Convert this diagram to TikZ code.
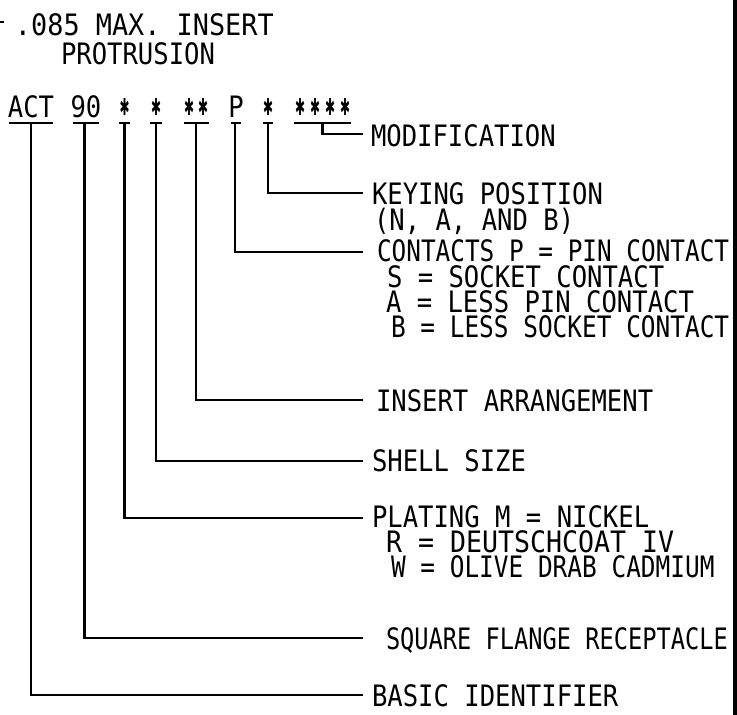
\documentclass[tikz,border=0pt]{standalone}
\usepackage{fontspec}
\newfontfamily\cad[FakeStretch=0.867]{DejaVu Sans Mono}
\newfontfamily\starfont{DejaVu Sans}
\newcommand\cadstar{\raisebox{2pt}{\resizebox*{10pt}{17pt}{\starfont\char"2731}}}
\newcommand\sx[2]{\scalebox{#1}[1]{#2}}
\begin{document}
\begin{tikzpicture}[x=1pt,y=-1pt,
  every node/.style={font=\cad\fontsize{29.5}{30}\selectfont, inner sep=0pt, outer sep=0pt},
  code/.style={anchor=base, text height=21.5pt, text depth=0pt, inner ysep=6pt, inner xsep=0pt},
  lbl/.style={anchor=base west},
  ln/.style={line width=2.8pt, line join=miter},
  ul/.style={line width=2.8pt},
]
\useasboundingbox (0,0) rectangle (737,715);
\fill[black] (733,0) rectangle (737,715);

% top note
\node[lbl] (note1) at (15,35) {\sx{1.05}{.085 MAX. INSERT}};
\node[lbl] (note2) at (61,64) {PROTRUSION};
\draw[line width=2pt] (0,22) -- (4,22);

% code row
\node[code] (act) at (31,117) {\makebox[44pt]{ACT}};
\node[code] (ninety) at (86,117) {\makebox[26pt]{90}};
\node[code] (s1) at (124.5,117) {\makebox[11pt]{\cadstar}};
\node[code] (s2) at (156,117) {\makebox[12pt]{\cadstar}};
\node[code] (s3) at (196,117) {\makebox[25pt]{\cadstar\hspace{4pt}\cadstar}};
\node[code] (pp) at (236,117) {\makebox[10pt]{P}};
\node[code] (s4) at (268,117) {\makebox[10pt]{\cadstar}};
\node[code] (s5) at (322.5,117) {\makebox[57pt]{\cadstar\hspace{5pt}\cadstar\hspace{5pt}\cadstar\hspace{5pt}\cadstar}};

\foreach \n in {act,ninety,s1,s2,s3,pp,s4,s5}
  \draw[ul] (\n.south west) -- (\n.south east);

% labels
\coordinate (mod) at (363,134);
\node[lbl] (modt) at (371,146) {MODIFICATION};
\coordinate (key) at (363,193);
\node[lbl] (keyt) at (372,204) {KEYING POSITION};
\node[lbl] (keyt2) at (374,230) {(N, A, AND B)};
\coordinate (con) at (363,252);
\node[lbl] (cont) at (377,261) {\sx{0.953}{CONTACTS P = PIN CONTACT}};
\node[lbl] (cont2) at (387,287) {S = SOCKET CONTACT};
\node[lbl] (cont3) at (386,312) {A = LESS PIN CONTACT};
\node[lbl] (cont4) at (391,337) {\sx{0.955}{B = LESS SOCKET CONTACT}};
\coordinate (ins) at (363,400);
\node[lbl] (inst) at (376,411) {INSERT ARRANGEMENT};
\coordinate (she) at (363,461);
\node[lbl] (shet) at (372,471) {SHELL SIZE};
\coordinate (pla) at (363,518);
\node[lbl] (plat) at (372,527) {PLATING M = NICKEL};
\node[lbl] (plat2) at (386,552) {\sx{1.04}{R = DEUTSCHCOAT IV}};
\node[lbl] (plat3) at (391,577) {\sx{0.955}{W = OLIVE DRAB CADMIUM}};
\coordinate (squ) at (363,638);
\node[lbl] (squt) at (386,649) {\sx{0.925}{SQUARE FLANGE RECEPTACLE}};
\coordinate (bas) at (363,695);
\node[lbl] (bast) at (372,706) {BASIC IDENTIFIER};

% connectors
\draw[ln] (s5.south) |- (mod);
\draw[ln] (s4.south) |- (key);
\draw[ln] ([xshift=-1pt]pp.south) |- (con);
\draw[ln] (s3.south) |- (ins);
\draw[ln] (s2.south) |- (she);
\draw[ln] (s1.south) |- (pla);
\draw[ln] ([xshift=-1.5pt]ninety.south) |- (squ);
\draw[ln] (act.south) |- (bas);
\end{tikzpicture}
\end{document}
